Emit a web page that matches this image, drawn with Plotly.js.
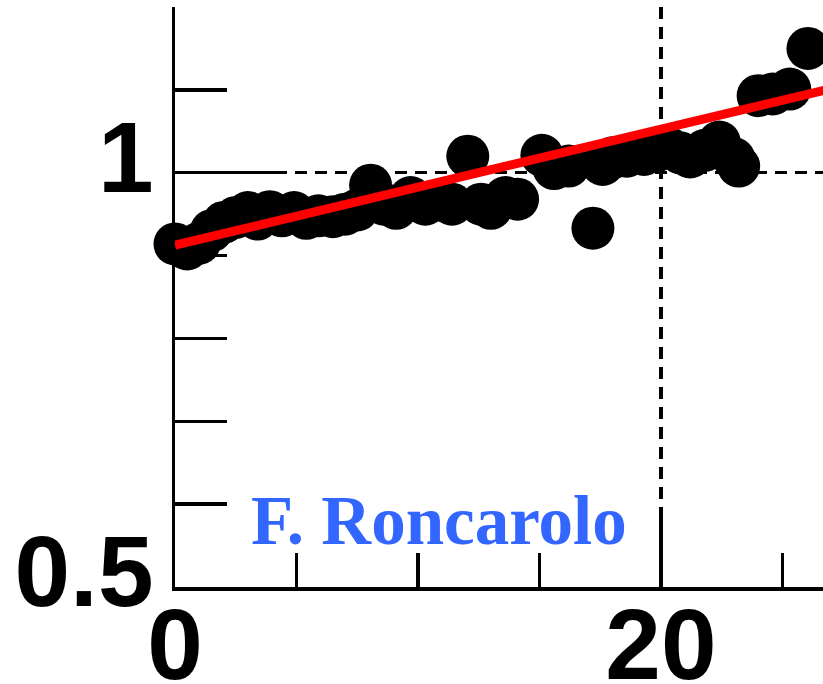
<!DOCTYPE html>
<html>
<head>
<meta charset="utf-8">
<script src="https://cdn.plot.ly/plotly-3.0.1.min.js"></script>
<style>
  html, body { margin: 0; padding: 0; background: #ffffff; }
  #chart { width: 823px; height: 684px; }
</style>
</head>
<body>
<div id="chart"></div>
<script>
// Measured points
const pointX = [0.0, 0.5, 1.0, 1.5, 2.0, 2.5, 3.0, 3.4, 3.9, 4.4, 4.9, 5.4, 5.9, 6.5, 7.0, 7.5,
                8.05, 8.6, 9.1, 9.7, 10.3, 10.9, 11.4, 12.05, 12.6, 13.0, 13.6, 14.1, 15.1, 15.6, 16.2,
                17.2, 17.6, 18.0, 18.6, 19.3, 19.8, 20.3, 20.8, 21.2, 21.8, 22.4, 23.0, 23.2,
                24.0, 24.6, 25.3, 26.05];
const pointY = [0.914, 0.908, 0.915, 0.930, 0.940, 0.946, 0.952, 0.944, 0.953, 0.948, 0.952, 0.945, 0.948, 0.947, 0.950, 0.955,
                0.985, 0.962, 0.957, 0.970, 0.962, 0.967, 0.962, 1.020, 0.962, 0.957, 0.970, 0.968, 1.021, 1.005, 1.008,
                0.933, 1.010, 1.018, 1.020, 1.022, 1.026, 1.030, 1.024, 1.019, 1.027, 1.037, 1.017, 1.008,
                1.093, 1.095, 1.101, 1.150];

// Straight-line fit, end points
const fitX = [0, 27];
const fitY = [0.9125, 1.1015];

// Axis ticks
const xMajorTicks = [0, 20];
const xMajorLabels = ['0', '20'];
const xMinorTicks = [5, 10, 15, 25];
const yMajorTicks = [0.5, 1];
const yMajorLabels = ['0.5', '1'];
const yMinorTicks = [0.6, 0.7, 0.8, 0.9, 1.1];

const authorLabel = 'F. Roncarolo';

const traces = [
  {
    type: 'scatter',
    mode: 'markers',
    x: pointX,
    y: pointY,
    marker: { color: '#000000', size: 43, line: { width: 0 } },
    cliponaxis: false,
    hoverinfo: 'skip'
  },
  {
    type: 'scatter',
    mode: 'lines',
    x: fitX,
    y: fitY,
    line: { color: '#ff0000', width: 9 },
    cliponaxis: true,
    hoverinfo: 'skip'
  }
];

const tickFont = { family: 'Liberation Sans, Arial, sans-serif', size: 100, color: '#000000', weight: 'bold' };

const gridStyle = { gridcolor: '#000000', gridwidth: 3.5, griddash: '12px,8px' };

const layout = {
  width: 823,
  height: 684,
  margin: { l: 175, r: 0, t: 7, b: 97, pad: 0 },
  paper_bgcolor: '#ffffff',
  plot_bgcolor: '#ffffff',
  showlegend: false,
  xaxis: Object.assign({
    range: [0, 26.67],
    tickmode: 'array',
    tickvals: xMajorTicks,
    ticktext: xMajorLabels,
    ticks: 'inside',
    ticklen: 68,
    tickwidth: 3.5,
    tickcolor: '#000000',
    showline: true,
    linewidth: 3.5,
    linecolor: '#000000',
    layer: 'below traces',
    zeroline: false,
    showgrid: true,
    tickfont: tickFont,
    ticklabelstandoff: -32,
    minor: {
      tickmode: 'array',
      tickvals: xMinorTicks,
      ticks: 'inside',
      ticklen: 34,
      tickwidth: 3.5,
      tickcolor: '#000000',
      showgrid: false
    },
    fixedrange: true
  }, gridStyle),
  yaxis: Object.assign({
    range: [0.5, 1.2],
    tickmode: 'array',
    tickvals: yMajorTicks,
    ticktext: yMajorLabels,
    ticks: 'inside',
    ticklen: 104,
    tickwidth: 3.5,
    tickcolor: '#000000',
    showline: true,
    linewidth: 3.5,
    linecolor: '#000000',
    layer: 'below traces',
    zeroline: false,
    showgrid: true,
    tickfont: tickFont,
    ticklabelstandoff: -2,
    ticklabelshift: -16,
    minor: {
      tickmode: 'array',
      tickvals: yMinorTicks,
      ticks: 'inside',
      ticklen: 52,
      tickwidth: 3.5,
      tickcolor: '#000000',
      showgrid: false
    },
    fixedrange: true
  }, gridStyle),
  annotations: [
    {
      xref: 'x',
      yref: 'y',
      x: 3.05,
      y: 0.580,
      xanchor: 'left',
      yanchor: 'middle',
      showarrow: false,
      text: authorLabel,
      font: { family: 'Liberation Serif, Times New Roman, serif', size: 69, color: '#3366ff', weight: 'bold' }
    }
  ]
};

Plotly.newPlot('chart', traces, layout, { staticPlot: true, displayModeBar: false });
</script>
</body>
</html>
